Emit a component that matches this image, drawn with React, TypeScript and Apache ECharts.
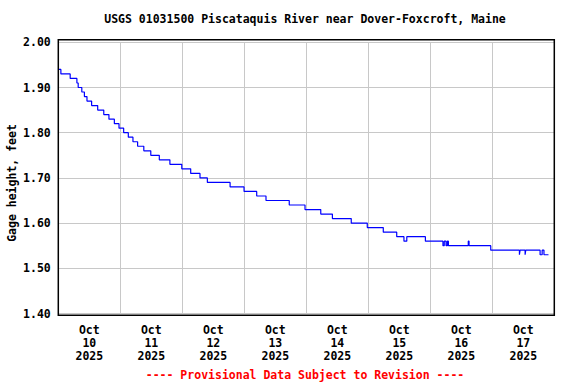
import React, { useEffect, useRef } from "react";
import * as echarts from "echarts";

// Gage height readings: step start times (hours since Oct 10 2025 00:00) and values (feet)
const stepHours = [
  0, 1.0, 4.6, 7.2, 7.7, 9.1, 10.1, 11.1, 12.9, 15.25, 17.6, 19.6, 21.7, 23.5, 25.3, 27.1, 28.9,
  30.7, 33.1, 35.8, 39.1, 43.2, 47.8, 51.25, 54.85, 57.7, 66.5, 71.9, 76.8, 80.4, 89.4, 95.5,
  101.6, 106.1, 113.4, 119.6, 125.8, 131.0, 133.8, 134.9, 142.1, 148.9, 149.4, 150.1, 150.6,
  151.0, 158.7, 159.0, 167.4, 178.5, 178.75, 180.7, 180.95, 186.5, 187.3, 188.0, 189.75,
];
const gageHeight = [
  1.94, 1.93, 1.92, 1.91, 1.9, 1.89, 1.88, 1.87, 1.86, 1.85, 1.84, 1.83, 1.82, 1.81, 1.8, 1.79,
  1.78, 1.77, 1.76, 1.75, 1.74, 1.73, 1.72, 1.71, 1.7, 1.69, 1.68, 1.67, 1.66, 1.65, 1.64, 1.63,
  1.62, 1.61, 1.6, 1.59, 1.58, 1.57, 1.56, 1.57, 1.56, 1.55, 1.56, 1.55, 1.56, 1.55, 1.56, 1.55,
  1.54, 1.53, 1.54, 1.53, 1.54, 1.53, 1.54, 1.53, 1.53,
];
const dayNumbers = [10, 11, 12, 13, 14, 15, 16, 17];
const monthName = "Oct";
const yearText = "2025";
const yMin = 1.4;
const yMax = 2.0;
const yStep = 0.1;

const titleText = "USGS 01031500 Piscataquis River near Dover-Foxcroft, Maine";
const footerText = "---- Provisional Data Subject to Revision ----";
const yName = "Gage height, feet";

const FONT = '"DejaVu Sans Mono", "Liberation Mono", monospace';

export default function App() {
  const ref = useRef<HTMLDivElement>(null);
  useEffect(() => {
    if (!ref.current) return;
    const chart = echarts.init(ref.current, null, { renderer: "svg", width: 576, height: 384 });
    const data = stepHours.map((h, i) => [h, gageHeight[i]]);
    const dayLabels = dayNumbers.map((d) => `${monthName}\n${d}\n${yearText}`);
    const textBase = { fontFamily: FONT, fontWeight: "bold" as const, fontSize: 11.5 };
    chart.setOption({
      animation: false,
      grid: { left: 58.3, right: 21.7, top: 42.3, bottom: 70.5, containLabel: false },
      xAxis: [
        {
          type: "value",
          min: 0,
          max: 192,
          interval: 24,
          axisLine: { show: false },
          axisTick: { show: false },
          axisLabel: { show: false },
          splitLine: { show: true, lineStyle: { color: "#c8c8c8", width: 1 } },
        },
        {
          type: "category",
          data: dayLabels,
          boundaryGap: true,
          position: "bottom",
          axisLine: { show: false },
          axisTick: { show: false },
          splitLine: { show: false },
          axisLabel: { interval: 0, margin: 10, color: "#000", lineHeight: 13, ...textBase },
        },
      ],
      yAxis: {
        type: "value",
        min: yMin,
        max: yMax,
        interval: yStep,
        axisLine: { show: false },
        axisTick: { show: false },
        axisLabel: {
          formatter: (v: number) => v.toFixed(2),
          margin: 7.5,
          color: "#000",
          ...textBase,
        },
        splitLine: { show: true, lineStyle: { color: "#c8c8c8", width: 1 } },
      },
      series: [
        {
          type: "line",
          step: "end",
          data,
          xAxisIndex: 0,
          symbol: "none",
          showSymbol: false,
          lineStyle: { color: "#0000ff", width: 1.2 },
          z: 3,
        },
      ],
      graphic: [
        {
          type: "rect",
          shape: { x: 58.3, y: 39.7, width: 496, height: 275.6 },
          style: { fill: "none", stroke: "#000", lineWidth: 1.5 },
          z: 10,
        },
        {
          type: "text",
          x: 305,
          y: 19,
          style: { text: titleText, ...textBase, fill: "#000", align: "center", verticalAlign: "middle" },
        },
        {
          type: "text",
          x: 305,
          y: 375,
          style: { text: footerText, ...textBase, fill: "#ff0000", align: "center", verticalAlign: "middle" },
        },
        {
          type: "text",
          x: 12,
          y: 183,
          rotation: Math.PI / 2,
          style: { text: yName, ...textBase, fill: "#000", align: "center", verticalAlign: "middle" },
        },
      ],
    });
    return () => chart.dispose();
  }, []);
  return <div ref={ref} style={{ position: "absolute", left: 0, top: 0, width: 576, height: 384 }} />;
}
